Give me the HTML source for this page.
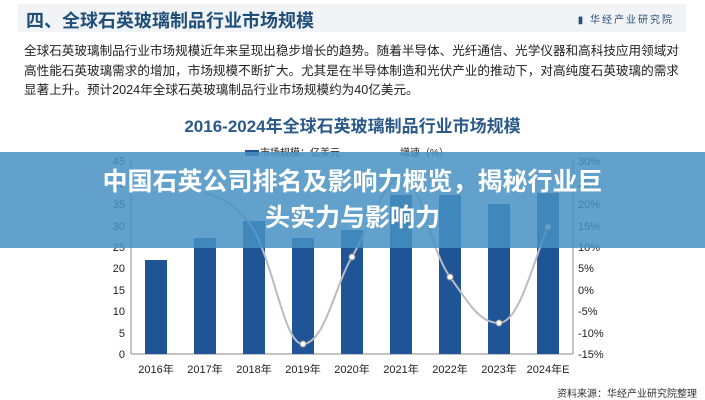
<!DOCTYPE html><html><head><meta charset="utf-8"><style>
body{margin:0;width:705px;height:400px;overflow:hidden;background:#fff;font-family:"Liberation Sans","Noto Sans CJK SC",sans-serif;position:relative}
.hd{position:absolute;left:18px;top:4px;width:668px;height:28px;background:#f1f3f6}
.hd b{position:absolute;left:8px;top:3px;font-size:18px;color:#1f4e79}
.hd span{position:absolute;right:12px;top:7px;font-size:10px;color:#2a4f7a;letter-spacing:2px}
.p{position:absolute;left:24px;top:42px;width:665px;font-size:12.6px;line-height:19.5px;color:#222}
.t{position:absolute;left:0;width:705px;top:112px;text-align:center;font-size:17px;font-weight:bold;color:#2b5a8a}
.bn{position:absolute;left:0;top:152px;width:705px;height:96px;background:rgba(70,145,195,0.85);color:#fff;font-weight:bold;font-size:25px;text-align:center;line-height:36px;padding-top:12px;box-sizing:border-box}
.src{position:absolute;right:8px;top:385px;font-size:10px;color:#333}
</style></head><body>
<div class="hd"><b>四、全球石英玻璃制品行业市场规模</b><span>▮ 华经产业研究院</span></div>
<div class="p">全球石英玻璃制品行业市场规模近年来呈现出稳步增长的趋势。随着半导体、光纤通信、光学仪器和高科技应用领域对高性能石英玻璃需求的增加，市场规模不断扩大。尤其是在半导体制造和光伏产业的推动下，对高纯度石英玻璃的需求显著上升。预计2024年全球石英玻璃制品行业市场规模约为40亿美元。</div>
<div class="t">2016-2024年全球石英玻璃制品行业市场规模</div>
<svg width="705" height="400" style="position:absolute;left:0;top:0" font-family="Liberation Sans, Noto Sans CJK SC, sans-serif" font-size="11" fill="#222">
<g stroke="#888"><line x1="131" y1="161" x2="131" y2="354"/><line x1="573" y1="161" x2="573" y2="354"/><line x1="131" y1="354" x2="573" y2="354"/></g>
<g text-anchor="end">
<text x="125" y="358">0</text><text x="125" y="337">5</text><text x="125" y="315">10</text><text x="125" y="294">15</text><text x="125" y="272">20</text><text x="125" y="251">25</text><text x="125" y="230">30</text><text x="125" y="208">35</text><text x="125" y="187">40</text><text x="125" y="165">45</text></g>
<g><text x="578" y="358">-15%</text><text x="578" y="337">-10%</text><text x="578" y="315">-5%</text><text x="578" y="294">0%</text><text x="578" y="272">5%</text><text x="578" y="251">10%</text><text x="578" y="230">15%</text><text x="578" y="208">20%</text><text x="578" y="187">25%</text><text x="578" y="165">30%</text></g>
<g fill="#1f5596">
<rect x="145" y="260" width="22" height="94"/><rect x="194" y="238" width="22" height="116"/><rect x="243" y="221" width="22" height="133"/><rect x="292" y="238" width="22" height="116"/><rect x="341" y="230" width="22" height="124"/><rect x="390" y="195" width="22" height="159"/><rect x="439" y="195" width="22" height="159"/><rect x="488" y="204" width="22" height="150"/><rect x="537" y="193" width="22" height="161"/></g>
<path d="M205,193 C230,200 240,210 254,230 C275,270 285,345 303,344 C325,343 335,285 352,257 C370,225 385,180 401,175 C420,175 430,250 450,277 C470,305 480,323 499,323 C520,323 535,255 548,227" fill="none" stroke="#b8bcc4" stroke-width="2"/>
<g fill="#fff" stroke="#999"><circle cx="303" cy="344" r="3"/><circle cx="352" cy="257" r="3"/><circle cx="450" cy="277" r="3"/><circle cx="499" cy="323" r="3"/><circle cx="548" cy="227" r="3"/></g>
<g text-anchor="middle"><text x="156" y="373">2016年</text><text x="205" y="373">2017年</text><text x="254" y="373">2018年</text><text x="303" y="373">2019年</text><text x="352" y="373">2020年</text><text x="401" y="373">2021年</text><text x="450" y="373">2022年</text><text x="499" y="373">2023年</text><text x="548" y="373">2024年E</text></g>
<rect x="245" y="150" width="14" height="6" fill="#1f5596"/><text x="260" y="156" font-size="10">市场规模：亿美元</text>
<text x="400" y="156" font-size="10">增速（%）</text>
</svg>
<div class="bn">中国石英公司排名及影响力概览，揭秘行业巨<br>头实力与影响力</div>
<div class="src">资料来源：华经产业研究院整理</div>
</body></html>
